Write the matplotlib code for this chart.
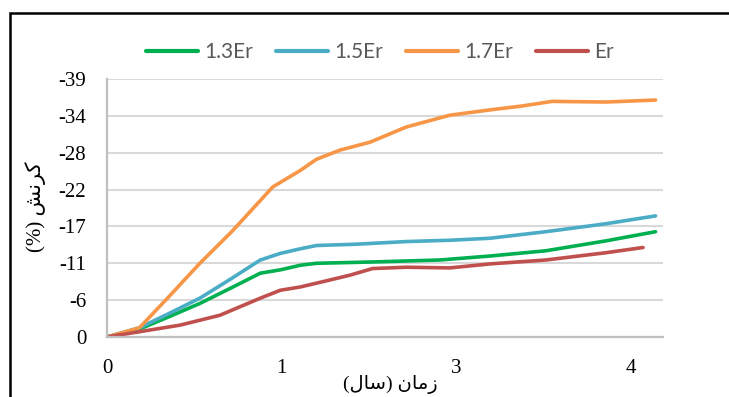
import matplotlib
matplotlib.use("Agg")
import matplotlib.pyplot as plt
import numpy as np
from matplotlib.patches import Rectangle
from matplotlib.ticker import FuncFormatter

# strain (%) vs time (years)
x_13 = [0, 0.26, 0.5, 0.745, 1.0, 1.23, 1.39, 1.55, 1.68, 2.13, 2.67, 3.07, 3.52, 4.0, 4.4]
y_13 = [0, -1.2, -3.1, -5.1, -7.5, -9.7, -10.2, -10.9, -11.2, -11.4, -11.7, -12.3, -13.1, -14.6, -16.0]

x_15 = [0, 0.26, 0.5, 0.745, 1.0, 1.23, 1.39, 1.55, 1.68, 2.0, 2.4, 2.75, 3.07, 3.52, 4.0, 4.4]
y_15 = [0, -1.4, -3.6, -5.9, -8.9, -11.7, -12.7, -13.4, -13.9, -14.1, -14.5, -14.7, -15.0, -16.0, -17.2, -18.4]

x_17 = [0, 0.26, 0.5, 0.745, 1.0, 1.33, 1.55, 1.68, 1.87, 2.11, 2.4, 2.75, 3.07, 3.33, 3.57, 4.0, 4.4]
y_17 = [0, -1.4, -6.2, -11.2, -16.0, -22.8, -25.3, -27.0, -28.4, -29.6, -31.9, -33.7, -34.5, -35.1, -35.8, -35.7, -36.0]

x_er = [0, 0.26, 0.585, 0.905, 1.23, 1.39, 1.55, 1.73, 1.95, 2.13, 2.4, 2.75, 3.07, 3.52, 4.0, 4.3]
y_er = [0, -0.8, -1.8, -3.3, -5.9, -7.1, -7.6, -8.4, -9.4, -10.4, -10.6, -10.5, -11.1, -11.7, -12.8, -13.6]

series_names = ["1.3Er", "1.5Er", "1.7Er", "Er"]
series_colors = ["#00B050", "#4BACC6", "#F79646", "#C0504D"]

x_ticks = [0, 1.4, 2.8, 4.2]
y_ticks = [0, -5.6, -11.2, -16.8, -22.4, -28.0, -33.6, -39.2]

# Persian labels in visual order with presentation forms (no shaping engine in mpl)
xlabel_txt = "(\uFEDD\uFE8E\uFEB3) \uFEE5\uFE8E\uFEE3\uFEAF"   # زمان (سال)
ylabel_txt = "(%) \uFEB6\uFEE7\uFEAE\uFB90"                      # کرنش (%)

serif = ["Liberation Serif", "DejaVu Serif"]
arabic = ["Liberation Serif", "DejaVu Sans"]
legend_font = ["Lato", "DejaVu Sans"]

fig = plt.figure(figsize=(7.29, 3.97), dpi=100)
ax = fig.add_axes([107/729, 1-337/397, (663-107)/729, (337-79)/397])

for xs, ys, name, col in zip([x_13, x_15, x_17, x_er], [y_13, y_15, y_17, y_er],
                             series_names, series_colors):
    ax.plot(xs, ys, color=col, lw=2.6, label=name, solid_capstyle="round")

ax.set_xlim(0, 4.46)
ax.set_ylim(0, -39.2)
ax.set_xticks(x_ticks)
ax.set_yticks(y_ticks)
ax.xaxis.set_major_formatter(FuncFormatter(lambda v, p: f"{abs(v):.0f}" if round(v) == 0 else f"{v:.0f}"))
ax.yaxis.set_major_formatter(FuncFormatter(lambda v, p: "0" if round(v) == 0 else f"{v:.0f}"))
ax.tick_params(axis="both", length=0, labelsize=15)
ax.tick_params(axis="y", pad=15)
ax.tick_params(axis="x", pad=16)
for lab in ax.get_xticklabels() + ax.get_yticklabels():
    lab.set_fontfamily(serif)

ax.grid(axis="y", color="#D9D9D9", lw=1.5)
ax.set_axisbelow(True)
for s in ["top", "right"]:
    ax.spines[s].set_visible(False)
for s in ["left", "bottom"]:
    ax.spines[s].set_color("#BFBFBF")
    ax.spines[s].set_linewidth(1.6)

fig.text(390/729, 1-384/397, xlabel_txt, ha="center", va="center", fontsize=14, family=arabic)
fig.text(36/729, 1-207/397, ylabel_txt, ha="center", va="center", rotation=90, fontsize=15, family=arabic)

leg = fig.legend(loc="center", bbox_to_anchor=(380/729, 1-52/397), ncol=4, frameon=False,
                 handlelength=2.5, handletextpad=0.3, columnspacing=1.1,
                 prop={"family": legend_font, "size": 15})
for t in leg.get_texts():
    t.set_color("#595959")
for h in leg.legend_handles:
    h.set_linewidth(3)

# outer frame, cut off at right and bottom as in the reference
fig.patches.append(Rectangle((9.5/729, -0.2), 1.2, 1.2 - 13/397, transform=fig.transFigure,
                             fill=False, edgecolor="black", lw=1.8, clip_on=False))

fig.savefig("out.png", dpi=100)
